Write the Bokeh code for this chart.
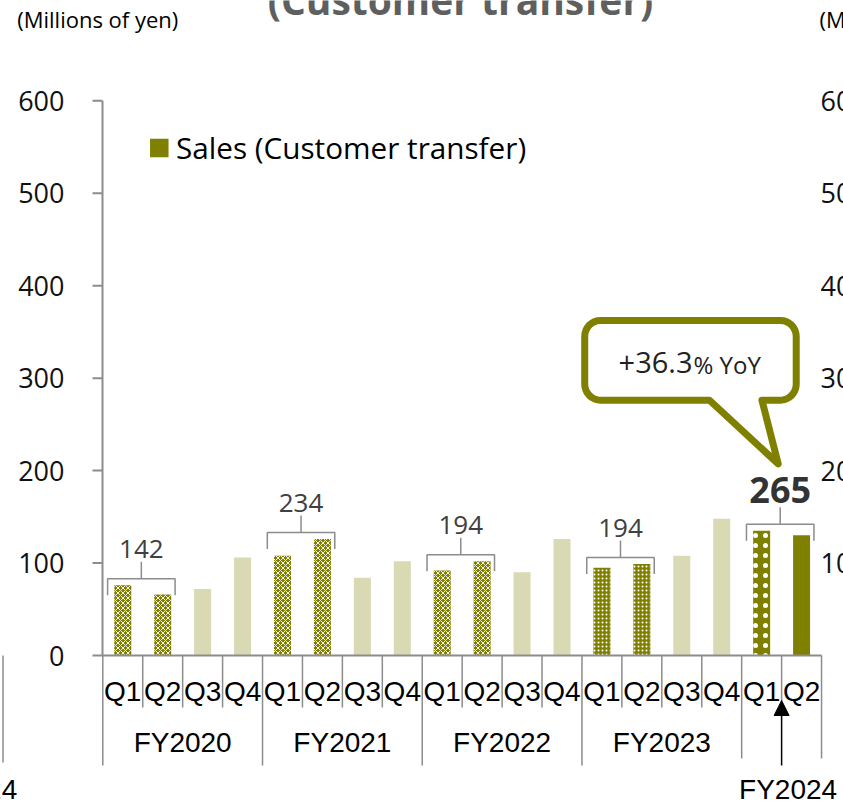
import math
from bokeh.plotting import figure
from bokeh.models import Range1d, ColumnDataSource, Arrow, NormalHead
from bokeh.core.properties import value
from bokeh.embed import file_html
from bokeh.resources import INLINE

# ---------------- data ----------------
fiscal_years = ["FY2020", "FY2021", "FY2022", "FY2023", "FY2024"]
quarter_names = ["Q1", "Q2", "Q3", "Q4"]
bar_years = ["FY2020"] * 4 + ["FY2021"] * 4 + ["FY2022"] * 4 + ["FY2023"] * 4 + ["FY2024"] * 2
bar_quarters = quarter_names * 4 + ["Q1", "Q2"]
sales = [76, 66, 72, 106, 108, 126, 84, 102, 92, 102, 90, 126, 95, 99, 108, 148, 135, 130]
h1_totals = [142, 234, 194, 194, 265]
yoy_value = "+36.3"
yoy_suffix = "% YoY"
y_ticks = [0, 100, 200, 300, 400, 500, 600]
unit_label = "(Millions of yen)"
legend_label = "Sales (Customer transfer)"
title_text = "(Customer transfer)"

# ---------------- layout helpers (reference pixels -> data) ----------------
X0, PXX = 102.3, 39.93      # left of first category, px per category
Y0, PXY = 655.0, 0.9245     # y of zero line, px per unit


def dx(px):
    return px / PXX


def dy(px):
    return px / PXY


def xr(ref):
    return (ref - X0) / PXX


def yr(ref):
    return (Y0 - ref) / PXY


def mid(baseline_px, size_px):
    """centre of digits/capitals for a given baseline (text drawn with 'middle')"""
    return baseline_px - 0.357 * size_px


OLIVE = "#808000"
LIGHT = "#D9D9B4"
GRAY = "#8c8c8c"
W, H = 843, 805

p = figure(width=W, height=H, output_backend="svg", toolbar_location=None,
           x_range=Range1d(xr(0), xr(W)), y_range=Range1d(yr(H), yr(0)),
           x_axis_location=None, y_axis_location=None, title=None,
           min_border_left=0, min_border_right=0, min_border_top=0, min_border_bottom=0)
p.outline_line_color = None
p.grid.visible = False
p.background_fill_color = "white"
p.border_fill_color = "white"

# ---------------- y axis (drawn through the y scale) ----------------
AX = xr(102)
p.segment(x0=[AX], y0=[y_ticks[0]], x1=[AX], y1=[y_ticks[-1]], line_color=GRAY, line_width=2)
p.segment(x0=[xr(92)] * len(y_ticks), y0=y_ticks, x1=[AX] * len(y_ticks), y1=y_ticks,
          line_color=GRAY, line_width=2)
p.text(x=[xr(64)] * len(y_ticks), y=y_ticks, text=[str(t) for t in y_ticks],
       text_font=value("Open Sans"), text_font_size="27px", text_color="#111111",
       text_align="right", text_baseline="middle")


# ---------------- bars ----------------
def style_of(fy, q):
    if q in ("Q3", "Q4"):
        return "light"
    if fy in ("FY2020", "FY2021", "FY2022"):
        return "checker"
    if fy == "FY2023":
        return "dots"
    if q == "Q1":
        return "sparse"
    return "solid"


styles = {
    "light": dict(fill_color=LIGHT),
    "checker": dict(fill_color=OLIVE, hatch_color="white", hatch_pattern="diagonal_cross",
                    hatch_scale=5, hatch_weight=0.9),
    "dots": dict(fill_color=OLIVE, hatch_color="white", hatch_pattern="dot",
                 hatch_scale=4, hatch_weight=1),
    "sparse": dict(fill_color=OLIVE, hatch_color="white", hatch_pattern="dot",
                   hatch_scale=10, hatch_weight=1),
    "solid": dict(fill_color=OLIVE),
}
BAR_W = dx(17)
for sname, sprops in styles.items():
    idx = [i for i in range(len(sales)) if style_of(bar_years[i], bar_quarters[i]) == sname]
    src = ColumnDataSource(dict(x=[i + 0.5 for i in idx], top=[sales[i] for i in idx]))
    p.vbar(x="x", top="top", bottom=0, width=BAR_W, source=src, line_color=None, **sprops)

# x axis line
p.segment(x0=[AX], y0=[0], x1=[len(sales)], y1=[0], line_color=GRAY, line_width=2)

# category separators
sx, sy0, sy1 = [], [], []
for i in range(len(sales) + 1):
    if i % 4 == 0 or i == len(sales):
        bottom = yr(758) if i >= 16 else yr(765)
    else:
        bottom = yr(707)
    sx.append(i)
    sy0.append(0)
    sy1.append(bottom)
p.segment(x0=sx, y0=sy0, x1=sx, y1=sy1, line_color=GRAY, line_width=1.5)

# quarter labels
p.text(x=[i + 0.5 for i in range(len(sales))], y=[yr(690.5)] * len(sales), text=bar_quarters,
       text_font=value("Liberation Sans"), text_font_size="28px", text_color="black",
       text_align="center", text_baseline="middle")
# fiscal year labels
p.text(x=[4 * k + 2 for k in range(4)], y=[yr(741.7)] * 4, text=fiscal_years[:4],
       text_font=value("Liberation Sans"), text_font_size="28px", text_color="black",
       text_align="center", text_baseline="middle")
arrow_x = 17
p.add_layout(Arrow(end=NormalHead(size=15, fill_color="black", line_color="black", line_width=1),
                   x_start=arrow_x, y_start=yr(765), x_end=arrow_x, y_end=yr(700),
                   line_color="black", line_width=1.5))
p.text(x=[arrow_x + dx(6.5)], y=[yr(789)], text=[fiscal_years[4]],
       text_font=value("Liberation Sans"), text_font_size="28px", text_color="black",
       text_align="center", text_baseline="middle")

# ---------------- H1 brackets and totals ----------------
bxs, bys = [], []
lab_x, lab_base, lab_t = [], [], []
for k, fy in enumerate(fiscal_years):
    i1 = bar_years.index(fy)
    top = max(sales[i1], sales[i1 + 1]) + dy(6.5)
    l, r = i1 + 0.12, i1 + 1.81
    m = (l + r) / 2
    bxs.append([l, l, r, r])
    bys.append([top - dy(16.5), top, top, top - dy(16.5)])
    bxs.append([m, m])
    bys.append([top, top + dy(17)])
    lab_x.append(m)
    lab_base.append(top + dy(17) + (dy(4.3) if k == 4 else dy(3)))
    lab_t.append(str(h1_totals[k]))
p.multi_line(xs=bxs, ys=bys, line_color=GRAY, line_width=1.5)
p.text(x=lab_x[:4], y=[b + dy(0.357 * 26) for b in lab_base[:4]], text=lab_t[:4],
       text_font=value("Open Sans"), text_font_size="26px", text_color="#404040",
       text_align="center", text_baseline="middle")
p.text(x=lab_x[4:], y=[b + dy(0.357 * 36) for b in lab_base[4:]], text=lab_t[4:],
       text_font=value("Open Sans"), text_font_size="36px", text_font_style="bold",
       text_color="#333333", text_align="center", text_baseline="middle")

# ---------------- callout bubble ----------------
tip_x = lab_x[4] - dx(2)
tip_y = lab_base[4] + dy(39)
L, R, T, B = -193.5, 18.0, -143.5, -63.7   # px offsets from tip (y down)
TL, TR = -68.7, -16.3
RAD = 16.0
pts = [(TR, B), (R - RAD, B)]


def arc(cx, cy, a0, a1, n=8):
    out = []
    for j in range(n + 1):
        a = math.radians(a0 + (a1 - a0) * j / n)
        out.append((cx + RAD * math.cos(a), cy + RAD * math.sin(a)))
    return out


pts += arc(R - RAD, B - RAD, 90, 0)
pts += arc(R - RAD, T + RAD, 0, -90)
pts += arc(L + RAD, T + RAD, -90, -180)
pts += arc(L + RAD, B - RAD, 180, 90)
pts += [(TL, B), (0, 0)]
p.patch(x=[tip_x + dx(px) for px, py in pts], y=[tip_y - dy(py) for px, py in pts],
        fill_color="white", line_color=OLIVE, line_width=7, line_join="round")
split_x = tip_x + dx(-85.7)
base_off = -90.7   # baseline offset from tip, px (y down)
p.text(x=[split_x], y=[tip_y - dy(base_off - 0.357 * 29)], text=[yoy_value],
       text_font=value("Open Sans"), text_font_size="29px", text_color="#222222",
       text_align="right", text_baseline="middle")
p.text(x=[split_x + dx(1)], y=[tip_y - dy(base_off - 0.357 * 24)], text=[yoy_suffix],
       text_font=value("Open Sans"), text_font_size="24px", text_color="#222222",
       text_align="left", text_baseline="middle")

# ---------------- legend ----------------
p.scatter(x=[xr(158.8)], y=[yr(147.5)], marker="square", size=18.5,
          fill_color=OLIVE, line_color=None)
p.text(x=[xr(175.5)], y=[yr(mid(157.3, 29.7))], text=[legend_label],
       text_font=value("Open Sans"), text_font_size="29.7px", text_color="black",
       text_align="left", text_baseline="middle")

# ---------------- titles / units ----------------
p.text(x=[xr(460)], y=[yr(mid(13, 39))], text=[title_text], text_font=value("Open Sans"),
       text_font_size="39px", text_font_style="bold", text_color="#5f5f5f",
       text_align="center", text_baseline="middle")
p.text(x=[xr(16.7), xr(819)], y=[yr(mid(26.7, 22))] * 2, text=[unit_label] * 2,
       text_font=value("Open Sans"), text_font_size="22px", text_color="black",
       text_align="left", text_baseline="middle")
# neighbouring chart fragments at the right and left edges
p.text(x=[xr(820)] * 6, y=y_ticks[1:], text=[str(t) for t in y_ticks[1:]],
       text_font=value("Open Sans"), text_font_size="27px", text_color="#111111",
       text_align="left", text_baseline="middle")
p.segment(x0=[xr(2.5)], y0=[0], x1=[xr(2.5)], y1=[yr(762)], line_color=GRAY, line_width=1.5)
p.text(x=[xr(16.7)], y=[yr(789)], text=[fiscal_years[4]],
       text_font=value("Liberation Sans"), text_font_size="28px", text_color="black",
       text_align="right", text_baseline="middle")

open("out.html", "w").write(file_html(p, INLINE))
